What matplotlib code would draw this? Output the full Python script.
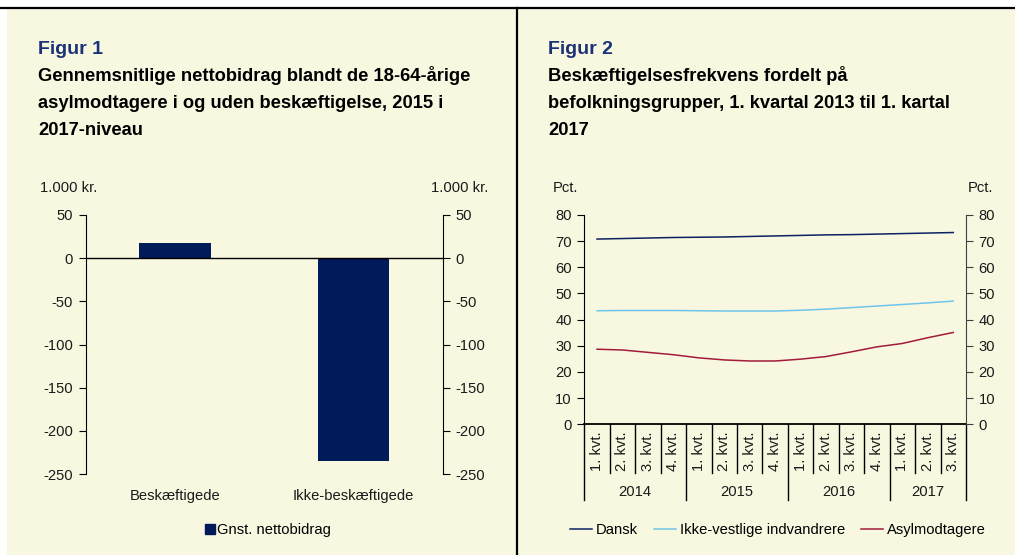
import matplotlib.pyplot as plt
from matplotlib.lines import Line2D

plt.rcParams['font.family'] = ['Liberation Sans', 'DejaVu Sans']
plt.rcParams['axes.unicode_minus'] = False

# figur 1 data
groups = ["Beskæftigede", "Ikke-beskæftigede"]
netto = [18, -235]

# figur 2 data (2014 1. kvt. - 2017 3. kvt.)
quarters = ["1. kvt.", "2. kvt.", "3. kvt.", "4. kvt."] * 3 + ["1. kvt.", "2. kvt.", "3. kvt."]
years = ["2014", "2015", "2016", "2017"]
year_len = [4, 4, 4, 3]
dansk = [70.8, 71.0, 71.2, 71.4, 71.5, 71.6, 71.8, 72.0, 72.2, 72.4, 72.5, 72.7, 72.9, 73.1, 73.3]
ikke_vest = [43.4, 43.5, 43.5, 43.5, 43.4, 43.3, 43.3, 43.3, 43.6, 44.0, 44.6, 45.2, 45.8, 46.4, 47.1]
asyl = [28.7, 28.4, 27.5, 26.6, 25.4, 24.6, 24.2, 24.2, 24.9, 25.9, 27.7, 29.6, 30.9, 33.1, 35.1]

bg = "#F8F8E1"
navy = "#001A5A"
W, H = 1015, 555

fig = plt.figure(figsize=(W / 100, H / 100), dpi=100)
fig.patch.set_facecolor("white")

def fx(px):
    return px / W

def fy(py):
    return 1 - py / H

# background panel, top rule and separator
fig.patches.append(plt.Rectangle((fx(7), 0), 1 - fx(7), fy(8), transform=fig.transFigure,
                                 facecolor=bg, edgecolor="none", zorder=-10))
fig.add_artist(Line2D([0, 1], [fy(8), fy(8)], color="black", lw=1.6))
fig.add_artist(Line2D([fx(517), fx(517)], [0, fy(8)], color="black", lw=1.6))

# titles
fig.text(fx(38), fy(49), "Figur 1", fontsize=14, fontweight="bold", color="#1B3277", va="center")
fig.text(fx(548), fy(49), "Figur 2", fontsize=14, fontweight="bold", color="#1B3277", va="center")
t1 = ["Gennemsnitlige nettobidrag blandt de 18-64-årige",
      "asylmodtagere i og uden beskæftigelse, 2015 i",
      "2017-niveau"]
t2 = ["Beskæftigelsesfrekvens fordelt på",
      "befolkningsgrupper, 1. kvartal 2013 til 1. kartal",
      "2017"]
for i, line in enumerate(t1):
    fig.text(fx(38), fy(81 + 27 * i), line, fontsize=13.2, fontweight="bold", va="baseline")
for i, line in enumerate(t2):
    fig.text(fx(548), fy(81 + 27 * i), line, fontsize=13.2, fontweight="bold", va="baseline")

fs = 10.6
tc = "#1a1a1a"

# ---- figur 1 ----
ax1 = fig.add_axes([fx(85.7), fy(474), fx(442.7 - 85.7), (474 - 215) / H])
ax1.set_facecolor("none")
ax1.bar(range(len(groups)), netto, width=0.4, color=navy, label="Gnst. nettobidrag", zorder=2)
ax1.axhline(0, color="black", lw=1, zorder=3)
ax1.set_xlim(-0.5, 1.5)
ax1.set_ylim(-250, 50)
ax1.set_yticks(range(-250, 51, 50))
ax1.set_xticks(range(len(groups)))
ax1.set_xticklabels(groups, fontsize=fs, color=tc)
ax1.tick_params(axis="x", length=0, pad=11)
ax1.tick_params(axis="y", direction="out", length=5, labelsize=fs, labelcolor=tc, pad=4)
for s in ["top", "right", "bottom"]:
    ax1.spines[s].set_visible(False)
ax1r = ax1.twinx()
ax1r.set_ylim(-250, 50)
ax1r.set_yticks(range(-250, 51, 50))
ax1r.tick_params(axis="y", direction="out", length=5, labelsize=fs, labelcolor=tc, pad=4)
for s in ["top", "left", "bottom"]:
    ax1r.spines[s].set_visible(False)
fig.text(fx(40), fy(188), "1.000 kr.", fontsize=fs, color=tc, va="center")
fig.text(fx(488), fy(188), "1.000 kr.", fontsize=fs, color=tc, va="center", ha="right")
h1 = [Line2D([], [], marker="s", ls="none", color=navy, markersize=6.5)]
fig.legend(h1, ["Gnst. nettobidrag"], loc="center", bbox_to_anchor=(fx(268), fy(530)),
           frameon=False, fontsize=fs, handlelength=0.6, handletextpad=0.2)

# ---- figur 2 ----
ax2 = fig.add_axes([fx(584.3), fy(424.3), fx(966 - 584.3), (424.3 - 215) / H])
ax2.set_facecolor("none")
x = range(len(quarters))
ax2.plot(x, dansk, color="#0B2160", lw=1.1, label="Dansk")
ax2.plot(x, ikke_vest, color="#6EC6EA", lw=1.1, label="Ikke-vestlige indvandrere")
ax2.plot(x, asyl, color="#A31A3A", lw=1.1, label="Asylmodtagere")
ax2.set_xlim(-0.5, len(quarters) - 0.5)
ax2.set_ylim(0, 80)
ax2.set_yticks(range(0, 81, 10))
ax2.set_xticks(x)
ax2.set_xticklabels(quarters, rotation=90, fontsize=fs, color=tc)
ax2.tick_params(axis="x", length=0, pad=5)
ax2.tick_params(axis="y", direction="out", length=5, labelsize=fs, labelcolor=tc, pad=4)
for s in ["top", "right"]:
    ax2.spines[s].set_visible(False)
ax2.spines["bottom"].set_linewidth(1.3)
ax2r = ax2.twinx()
ax2r.set_ylim(0, 80)
ax2r.set_yticks(range(0, 81, 10))
ax2r.tick_params(axis="y", direction="out", length=5, labelsize=fs, labelcolor=tc, pad=4,
                 color="#404040")
ax2r.spines["right"].set_color("#404040")
for s in ["top", "left", "bottom"]:
    ax2r.spines[s].set_visible(False)

# category separators
ah = (424.3 - 215)
short = -49 / ah
long_ = -76 / ah
trans = ax2.get_xaxis_transform()
bounds = [-0.5]
for n in year_len:
    bounds.append(bounds[-1] + n)
year_edges = set(bounds)
for b in [i - 0.5 for i in range(len(quarters) + 1)]:
    ax2.plot([b, b], [0, long_ if b in year_edges else short], transform=trans,
             color="black", lw=1, clip_on=False)
for i, yr in enumerate(years):
    mid = (bounds[i] + bounds[i + 1]) / 2
    ax2.text(mid, -(492 - 424.3) / ah, yr, transform=trans, ha="center", va="center",
             fontsize=fs, color=tc)
fig.text(fx(553), fy(188), "Pct.", fontsize=fs, color=tc, va="center")
fig.text(fx(993), fy(188), "Pct.", fontsize=fs, color=tc, va="center", ha="right")
h2, l2 = ax2.get_legend_handles_labels()
fig.legend(h2, l2, loc="center", bbox_to_anchor=(fx(778), fy(530)), ncol=3, frameon=False,
           fontsize=fs, handlelength=1.5, handletextpad=0.25, columnspacing=1.1)

fig.savefig("out.png", dpi=100, facecolor=fig.get_facecolor())
